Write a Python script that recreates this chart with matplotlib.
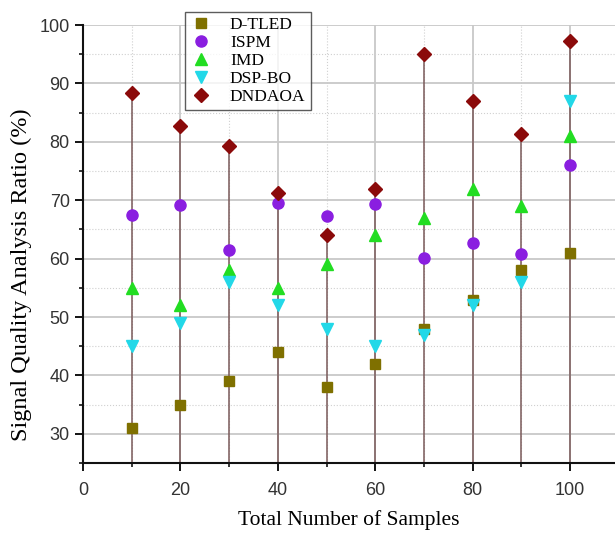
import matplotlib
matplotlib.use('Agg')
import matplotlib.pyplot as plt
from matplotlib.ticker import MultipleLocator

samples = [10, 20, 30, 40, 50, 60, 70, 80, 90, 100]
d_tled = [31, 35, 39, 44, 38, 42, 48, 53, 58, 61]
ispm = [67.5, 69.2, 61.4, 69.5, 67.3, 69.3, 60.1, 62.7, 60.8, 76]
imd = [55, 52, 58, 55, 59, 64, 67, 72, 69, 81]
dsp_bo = [45, 49, 56, 52, 48, 45, 47, 52, 56, 87]
dndaoa = [88.3, 82.8, 79.3, 71.2, 64, 72, 95, 87, 81.3, 97.2]

serif = 'Liberation Serif'
sans = 'Liberation Sans'

fig = plt.figure(figsize=(6.15, 5.34), dpi=100)
ax = fig.add_axes([0.135, 0.133, 0.865, 0.82])

ax.set_xlim(0, 109.2)
ax.set_ylim(25, 100)

# drop lines from the DNDAOA points
ax.vlines(samples, 25, dndaoa, color='#7a5a5a', linewidth=1.3, alpha=0.85, zorder=2)

ax.plot(samples, d_tled, 's', color='#7f7000', markersize=7, label='D-TLED', zorder=3)
ax.plot(samples, ispm, 'o', color='#8a1ee0', markersize=8, label='ISPM', zorder=3)
ax.plot(samples, imd, '^', color='#22dd22', markersize=8, label='IMD', zorder=3)
ax.plot(samples, dsp_bo, 'v', color='#22d8e8', markersize=8, label='DSP-BO', zorder=3)
ax.plot(samples, dndaoa, 'D', color='#8b0a0a', markersize=7, label='DNDAOA', zorder=3)

ax.xaxis.set_major_locator(MultipleLocator(20))
ax.xaxis.set_minor_locator(MultipleLocator(10))
ax.yaxis.set_major_locator(MultipleLocator(10))
ax.yaxis.set_minor_locator(MultipleLocator(5))
ax.set_yticks(range(30, 101, 10))

ax.grid(which='major', color='#c8c8c8', linewidth=1.3, linestyle='-', zorder=0)
ax.grid(which='minor', color='#d0d0d0', linewidth=0.8, linestyle=':', zorder=0)
ax.set_axisbelow(True)

for s in ['top', 'right']:
    ax.spines[s].set_visible(False)
for s in ['left', 'bottom']:
    ax.spines[s].set_linewidth(1.5)
    ax.spines[s].set_color('#111111')
ax.spines['left'].set_bounds(25, 100)

ax.tick_params(which='major', direction='out', length=6, width=1.3, labelsize=13)
ax.tick_params(axis='x', which='major', pad=8)
ax.tick_params(which='minor', direction='out', length=3, width=1.1)
for lbl in ax.get_xticklabels() + ax.get_yticklabels():
    lbl.set_fontfamily(sans)
    lbl.set_color('#333333')

ax.set_xlabel('Total Number of Samples', fontfamily=serif, fontsize=15.5, labelpad=8)
ax.set_ylabel('Signal Quality Analysis Ratio (%)', fontfamily=serif, fontsize=17.5)
ax.yaxis.set_label_coords(-0.095, 0.43)

leg = ax.legend(loc='upper left', bbox_to_anchor=(0.175, 1.05), frameon=True, fancybox=False,
                edgecolor='#333333', prop={'family': serif, 'size': 12.5},
                handletextpad=1.0, borderpad=0.3, labelspacing=0.1, handlelength=1.3)
leg.get_frame().set_linewidth(1.0)

fig.savefig('out.png', dpi=100)
